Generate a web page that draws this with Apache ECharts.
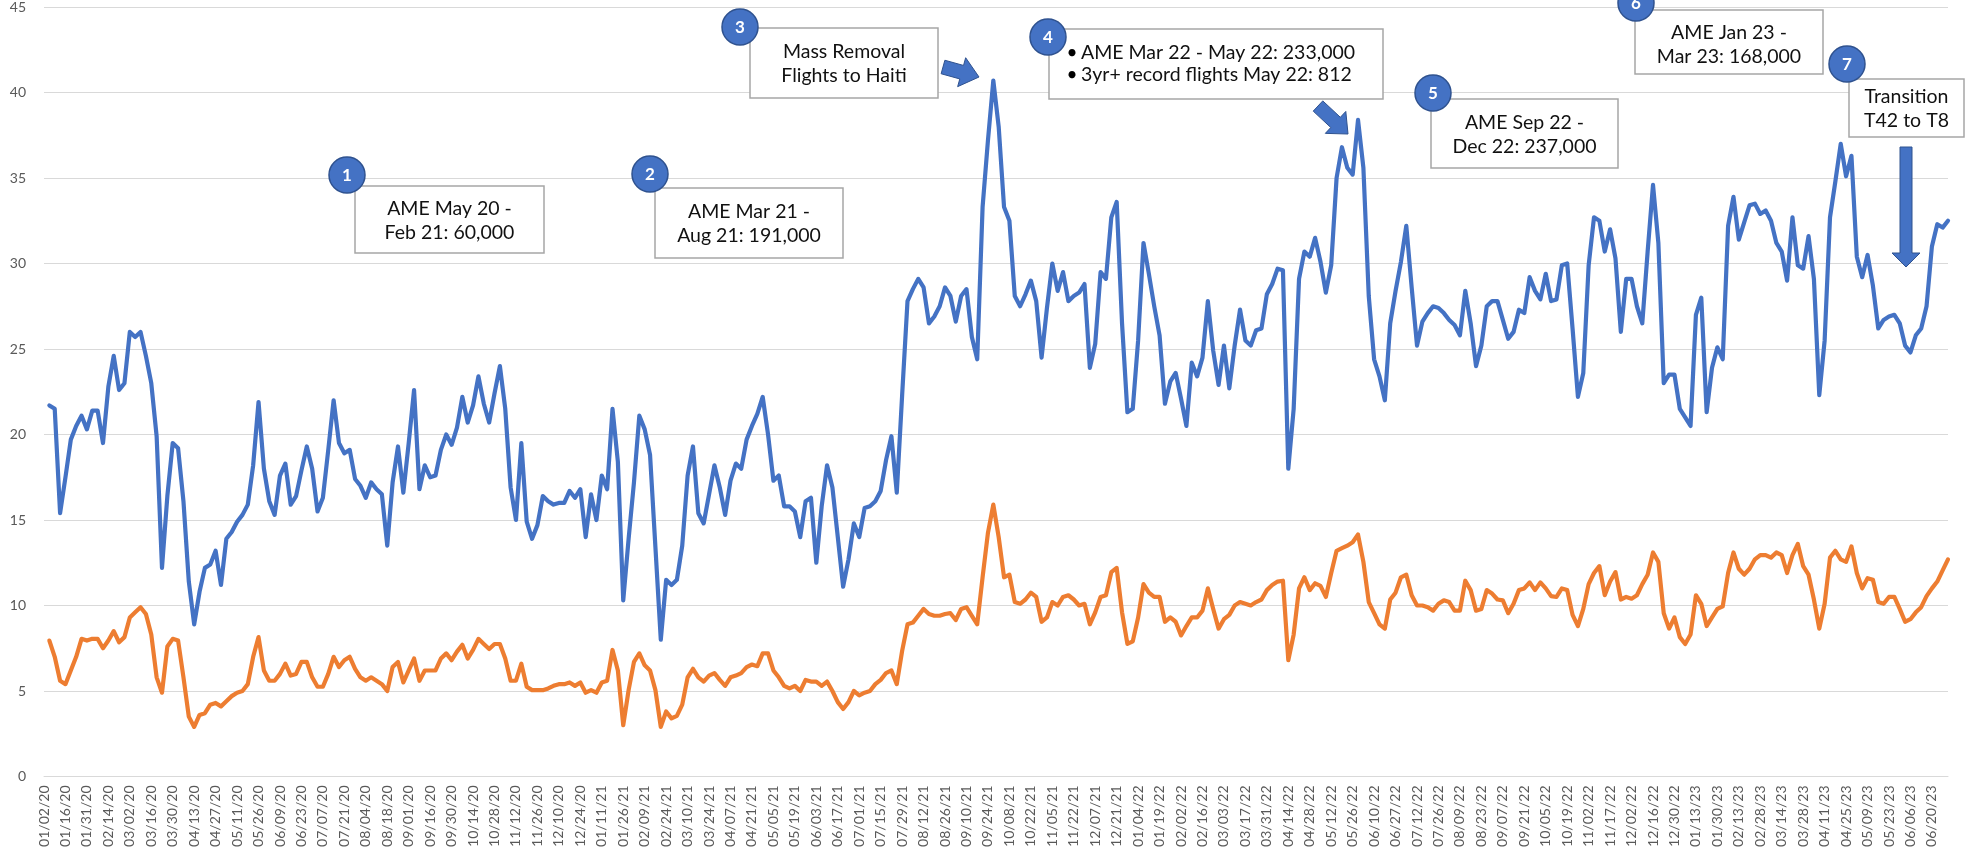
<!DOCTYPE html>
<html>
<head>
<meta charset="utf-8">
<title>AME flights</title>
<script src="https://cdn.jsdelivr.net/npm/echarts@6.0.0/dist/echarts.min.js"></script>
<style>
  html, body { margin: 0; padding: 0; background: #fff; }
  #main { width: 1967px; height: 853px; }
</style>
</head>
<body>
<div id="main"></div>
<script>
// x axis tick labels (one every ~2 weeks)
var dateLabels = [
  '01/02/20','01/16/20','01/31/20','02/14/20','03/02/20','03/16/20','03/30/20','04/13/20','04/27/20','05/11/20',
  '05/26/20','06/09/20','06/23/20','07/07/20','07/21/20','08/04/20','08/18/20','09/01/20','09/16/20','09/30/20',
  '10/14/20','10/28/20','11/12/20','11/26/20','12/10/20','12/24/20','01/11/21','01/26/21','02/09/21','02/24/21',
  '03/10/21','03/24/21','04/07/21','04/21/21','05/05/21','05/19/21','06/03/21','06/17/21','07/01/21','07/15/21',
  '07/29/21','08/12/21','08/26/21','09/10/21','09/24/21','10/08/21','10/22/21','11/05/21','11/22/21','12/07/21',
  '12/21/21','01/04/22','01/19/22','02/02/22','02/16/22','03/03/22','03/17/22','03/31/22','04/14/22','04/28/22',
  '05/12/22','05/26/22','06/10/22','06/27/22','07/12/22','07/26/22','08/09/22','08/23/22','09/07/22','09/21/22',
  '10/05/22','10/19/22','11/02/22','11/17/22','12/02/22','12/16/22','12/30/22','01/13/23','01/30/23','02/13/23',
  '02/28/23','03/14/23','03/28/23','04/11/23','04/25/23','05/09/23','05/23/23','06/06/23','06/20/23'
];

// readings per tick label step
var perLabel = 4;

// blue line
var blueLine = [
  null,21.7,21.5,15.4,17.5,19.7,20.5,21.1,20.3,21.4,21.4,19.5,22.8,24.6,22.6,23.0,26.0,25.7,26.0,24.6,
  23.0,19.9,12.2,16.4,19.5,19.2,16.1,11.4,8.9,10.8,12.2,12.4,13.2,11.2,13.9,14.3,14.9,15.3,15.9,18.2,
  21.9,18.0,16.1,15.3,17.6,18.3,15.9,16.4,17.9,19.3,18.0,15.5,16.3,19.1,22.0,19.5,18.9,19.1,17.4,17.0,
  16.3,17.2,16.8,16.5,13.5,17.2,19.3,16.6,19.5,22.6,16.8,18.2,17.5,17.6,19.1,20.0,19.4,20.4,22.2,20.7,
  21.7,23.4,21.8,20.7,22.4,24.0,21.5,16.9,15.0,19.5,14.9,13.9,14.7,16.4,16.1,15.9,16.0,16.0,16.7,16.3,
  16.8,14.0,16.5,15.0,17.6,16.8,21.5,18.4,10.3,13.9,17.2,21.1,20.3,18.8,13.4,8.0,11.5,11.2,11.5,13.5,
  17.6,19.3,15.4,14.8,16.5,18.2,16.9,15.3,17.3,18.3,18.0,19.7,20.5,21.2,22.2,20.0,17.3,17.6,15.8,15.8,
  15.5,14.0,16.1,16.3,12.5,15.8,18.2,16.9,14.0,11.1,12.7,14.8,14.0,15.7,15.8,16.1,16.7,18.5,19.9,16.6,
  22.3,27.8,28.5,29.1,28.6,26.5,26.9,27.5,28.6,28.1,26.6,28.1,28.5,25.7,24.4,33.3,37.2,40.7,38.0,33.3,
  32.5,28.1,27.5,28.2,29.0,27.8,24.5,27.4,30.0,28.4,29.5,27.8,28.1,28.3,28.8,23.9,25.3,29.5,29.1,32.7,
  33.6,26.5,21.3,21.5,25.5,31.2,29.4,27.5,25.8,21.8,23.1,23.6,22.1,20.5,24.2,23.4,24.5,27.8,24.9,22.9,
  25.2,22.7,25.2,27.3,25.5,25.2,26.1,26.2,28.2,28.8,29.7,29.6,18.0,21.5,29.1,30.7,30.4,31.5,30.1,28.3,
  29.9,35.0,36.8,35.6,35.2,38.4,35.6,28.1,24.4,23.4,22.0,26.5,28.4,30.1,32.2,28.6,25.2,26.6,27.1,27.5,
  27.4,27.1,26.7,26.4,25.8,28.4,26.5,24.0,25.2,27.5,27.8,27.8,26.7,25.6,26.0,27.3,27.1,29.2,28.4,27.9,
  29.4,27.8,27.9,29.9,30.0,26.2,22.2,23.6,29.9,32.7,32.5,30.7,32.0,30.3,26.0,29.1,29.1,27.5,26.5,30.7,
  34.6,31.2,23.0,23.5,23.5,21.5,21.0,20.5,27.0,28.0,21.3,23.9,25.1,24.4,32.2,33.9,31.4,32.4,33.4,33.5,
  32.9,33.1,32.5,31.2,30.7,29.0,32.7,29.9,29.7,31.6,29.1,22.3,25.5,32.7,34.8,37.0,35.1,36.3,30.4,29.2,
  30.5,28.7,26.2,26.7,26.9,27.0,26.5,25.2,24.8,25.8,26.2,27.5,31.0,32.3,32.1,32.5
];

// orange line
var orangeLine = [
  null,7.95,7.0,5.6,5.4,6.2,7.0,8.05,7.95,8.05,8.05,7.5,7.95,8.5,7.85,8.15,9.3,9.6,9.9,9.5,
  8.3,5.8,4.9,7.6,8.05,7.95,5.8,3.5,2.9,3.6,3.7,4.2,4.3,4.1,4.4,4.7,4.9,5.0,5.4,7.0,
  8.15,6.2,5.6,5.6,6.0,6.6,5.9,6.0,6.7,6.7,5.8,5.25,5.25,6.0,7.0,6.4,6.8,7.0,6.3,5.8,
  5.6,5.8,5.6,5.4,5.0,6.4,6.7,5.5,6.2,6.9,5.6,6.2,6.2,6.2,6.9,7.2,6.8,7.3,7.7,6.9,
  7.4,8.05,7.75,7.45,7.75,7.75,6.9,5.6,5.6,6.6,5.25,5.05,5.05,5.05,5.15,5.3,5.4,5.4,5.5,5.3,
  5.5,4.9,5.05,4.9,5.5,5.6,7.4,6.2,3.0,5.05,6.7,7.2,6.5,6.2,5.05,2.9,3.8,3.4,3.55,4.2,
  5.8,6.3,5.8,5.55,5.9,6.05,5.65,5.3,5.8,5.9,6.05,6.4,6.55,6.45,7.2,7.2,6.2,5.8,5.3,5.15,
  5.3,5.0,5.65,5.55,5.55,5.3,5.55,5.0,4.35,3.95,4.35,5.0,4.75,4.9,5.0,5.4,5.65,6.05,6.2,5.4,
  7.35,8.9,9.0,9.4,9.8,9.5,9.4,9.4,9.5,9.55,9.15,9.8,9.9,9.4,8.9,11.65,14.25,15.9,14.0,11.65,
  11.8,10.2,10.1,10.35,10.75,10.5,9.05,9.3,10.2,10.0,10.5,10.6,10.35,10.0,10.1,8.9,9.6,10.5,10.6,11.95,
  12.2,9.6,7.75,7.9,9.3,11.25,10.75,10.5,10.5,9.05,9.3,9.05,8.25,8.8,9.3,9.3,9.7,11.0,9.8,8.65,
  9.2,9.45,10.0,10.2,10.1,10.0,10.2,10.35,10.9,11.2,11.4,11.45,6.8,8.3,11.0,11.65,10.9,11.3,11.15,10.5,
  11.9,13.2,13.35,13.5,13.7,14.15,12.55,10.2,9.55,8.9,8.65,10.35,10.75,11.65,11.8,10.6,10.0,10.0,9.9,9.7,
  10.1,10.3,10.2,9.7,9.7,11.45,10.9,9.7,9.8,10.9,10.7,10.35,10.3,9.55,10.1,10.9,11.0,11.35,10.9,11.35,
  11.0,10.55,10.5,11.0,10.9,9.45,8.8,9.8,11.25,11.9,12.3,10.6,11.4,11.95,10.35,10.5,10.4,10.6,11.25,11.8,
  13.1,12.55,9.55,8.65,9.3,8.15,7.75,8.3,10.6,10.1,8.8,9.3,9.8,9.95,11.9,13.1,12.15,11.8,12.15,12.7,
  12.95,12.95,12.8,13.1,12.95,11.9,12.95,13.6,12.3,11.8,10.35,8.65,10.1,12.8,13.2,12.7,12.55,13.45,11.9,11.0,
  11.6,11.5,10.2,10.1,10.5,10.5,9.8,9.05,9.2,9.6,9.9,10.55,11.0,11.4,12.05,12.7
];

// callouts: numbered badge + text box
var notes = [
  { n: '1', cx: 347, cy: 175, box: [355, 186, 189, 67], text: 'AME May 20 -\nFeb 21: 60,000' },
  { n: '2', cx: 650, cy: 174, box: [655, 188, 188, 70], text: 'AME Mar 21 -\nAug 21: 191,000' },
  { n: '3', cx: 740, cy: 27, box: [750, 28, 188, 70], text: 'Mass Removal\nFlights to Haiti' },
  { n: '4', cx: 1048, cy: 37, box: [1049, 29, 334, 70],
    bullets: ['AME Mar 22 - May 22: 233,000', '3yr+ record flights May 22: 812'] },
  { n: '5', cx: 1433, cy: 93, box: [1431, 99, 187, 69], text: 'AME Sep 22 -\nDec 22: 237,000' },
  { n: '6', cx: 1636, cy: 3, box: [1635, 10, 188, 64], text: 'AME Jan 23 -\nMar 23: 168,000', ty: 45 },
  { n: '7', cx: 1847, cy: 64, box: [1849, 79, 115, 58], text: 'Transition\nT42 to T8' }
];

// block arrows [x1, y1, x2, y2, shaft half width, head half width, head length]
var arrows = [
  [943, 67, 979, 77, 7, 15, 18],
  [1318, 106, 1348, 134, 7, 15, 17],
  [1906, 147, 1906, 267, 6, 14, 14]
];

var FONT = 'Lato, "Liberation Sans", sans-serif';

function blockArrow(a) {
  var dx = a[2] - a[0], dy = a[3] - a[1];
  var len = Math.sqrt(dx * dx + dy * dy);
  var ux = dx / len, uy = dy / len, nx = -uy, ny = ux;
  var bx = a[2] - ux * a[6], by = a[3] - uy * a[6];
  return [
    [a[0] + nx * a[4], a[1] + ny * a[4]],
    [bx + nx * a[4], by + ny * a[4]],
    [bx + nx * a[5], by + ny * a[5]],
    [a[2], a[3]],
    [bx - nx * a[5], by - ny * a[5]],
    [bx - nx * a[4], by - ny * a[4]],
    [a[0] - nx * a[4], a[1] - ny * a[4]]
  ];
}

var shapes = [];
notes.forEach(function (d) {
  var b = d.box;
  shapes.push({
    type: 'rect', z: 10,
    shape: { x: b[0], y: b[1], width: b[2], height: b[3] },
    style: { fill: '#fff', stroke: '#a6a6a6', lineWidth: 1.5 }
  });
  if (d.bullets) {
    d.bullets.forEach(function (t, k) {
      var y = b[1] + 24 + k * 22;
      shapes.push({ type: 'text', z: 11, x: b[0] + 23, y: y,
        style: { text: '•', font: '19px ' + FONT, fill: '#000', align: 'center', verticalAlign: 'middle' } });
      shapes.push({ type: 'text', z: 11, x: b[0] + 32, y: y,
        style: { text: t, font: '19.5px ' + FONT, fill: '#111', align: 'left', verticalAlign: 'middle' } });
    });
  } else {
    shapes.push({
      type: 'text', z: 11, x: b[0] + b[2] / 2, y: d.ty || (b[1] + b[3] / 2 + 1),
      style: { text: d.text, font: '19.5px ' + FONT, fill: '#111', align: 'center',
               verticalAlign: 'middle', lineHeight: 24 }
    });
  }
});
arrows.forEach(function (a) {
  shapes.push({
    type: 'polygon', z: 12,
    shape: { points: blockArrow(a) },
    style: { fill: '#4472c4', stroke: '#2f528f', lineWidth: 1 }
  });
});
notes.forEach(function (d) {
  shapes.push({
    type: 'circle', z: 13,
    shape: { cx: d.cx, cy: d.cy, r: 18 },
    style: { fill: '#4472c4', stroke: '#2f528f', lineWidth: 1.5 }
  });
  shapes.push({
    type: 'text', z: 14, x: d.cx, y: d.cy + 1,
    style: { text: d.n, font: 'bold 17px ' + FONT, fill: '#fff', align: 'center', verticalAlign: 'middle' }
  });
});

var myChart = echarts.init(document.getElementById('main'));

option = {
  animation: false,
  backgroundColor: '#fff',
  textStyle: { fontFamily: FONT },
  grid: { left: 44, right: 19, top: 4.3, bottom: 76.5 },
  xAxis: {
    type: 'value',
    min: 0,
    max: (blueLine.length - 1) / perLabel,
    interval: 1,
    splitLine: { show: false },
    axisTick: { show: false },
    axisLine: { show: true, lineStyle: { color: '#d9d9d9', width: 1 } },
    axisLabel: {
      rotate: 90,
      margin: 9,
      color: '#595959',
      fontSize: 14,
      fontFamily: FONT,
      showMinLabel: true,
      showMaxLabel: false,
      formatter: function (v) {
        return Number.isInteger(v) && dateLabels[v] ? dateLabels[v] : '';
      }
    }
  },
  yAxis: {
    type: 'value',
    min: 0,
    max: 45,
    interval: 5,
    axisLine: { show: false },
    axisTick: { show: false },
    splitLine: { lineStyle: { color: '#d9d9d9', width: 1 } },
    axisLabel: { color: '#595959', fontSize: 14, fontFamily: FONT, margin: 18 }
  },
  graphic: { elements: shapes },
  series: [
    {
      name: 'blue',
      type: 'line',
      showSymbol: false,
      silent: true,
      data: blueLine.map(function (v, i) { return [i / perLabel, v]; }),
      lineStyle: { color: '#4472c4', width: 4.2, cap: 'round', join: 'round' },
      itemStyle: { color: '#4472c4' }
    },
    {
      name: 'orange',
      type: 'line',
      showSymbol: false,
      silent: true,
      data: orangeLine.map(function (v, i) { return [i / perLabel, v]; }),
      lineStyle: { color: '#ed7d31', width: 4.2, cap: 'round', join: 'round' },
      itemStyle: { color: '#ed7d31' }
    }
  ]
};

myChart.setOption(option);
</script>
</body>
</html>
